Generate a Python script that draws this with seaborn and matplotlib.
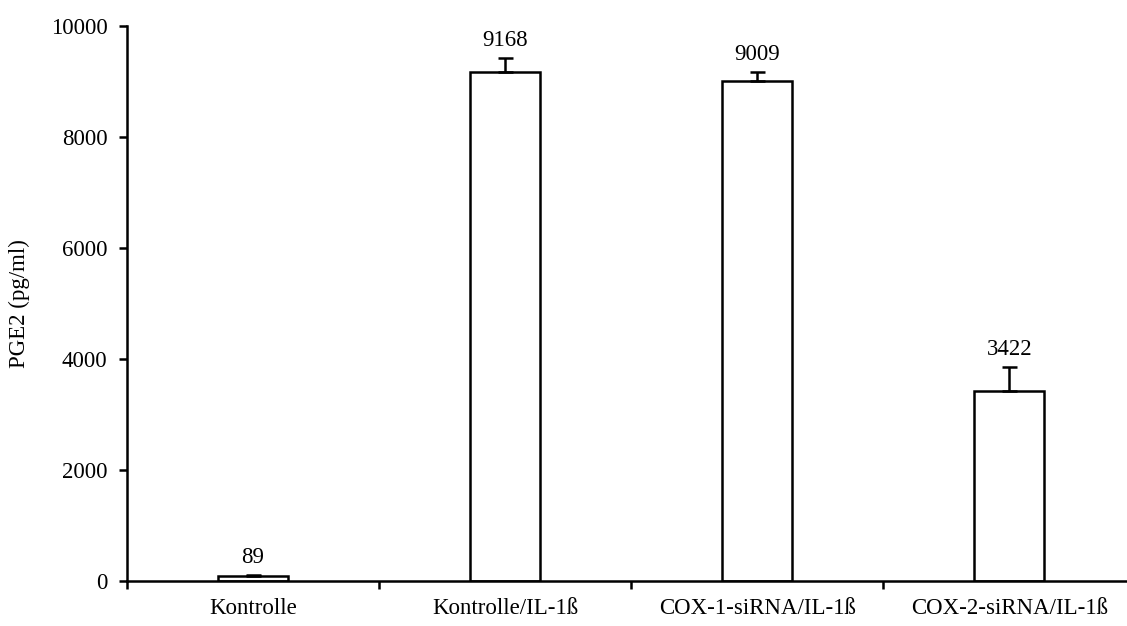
"""PGE2 release after IL-1beta stimulation, siRNA knock-down of COX-1 / COX-2."""

import matplotlib.pyplot as plt
import numpy as np
import pandas as pd
import seaborn as sns

categories = ["Kontrolle", "Kontrolle/IL-1ß", "COX-1-siRNA/IL-1ß", "COX-2-siRNA/IL-1ß"]
pge2_means = [89, 9168, 9009, 3422]
pge2_errors = [20, 255, 160, 430]

sns.set_theme(style="ticks")
plt.rcParams.update({
    "font.family": ["Liberation Serif", "DejaVu Serif"],
    "font.size": 16.5,
    "xtick.labelsize": 16.5,
    "ytick.labelsize": 16.5,
    "axes.labelsize": 16.5,
    "text.color": "black",
    "axes.labelcolor": "black",
    "xtick.color": "black",
    "ytick.color": "black",
})

df = pd.DataFrame({"group": categories, "pge2": pge2_means})

fig = plt.figure(figsize=(11.27, 6.26), dpi=100)
ax = fig.add_axes([0.1127, 0.0719, 0.8946, 0.8866])

sns.barplot(data=df, x="group", y="pge2", order=categories, color="white",
            edgecolor="black", linewidth=1.8, width=0.28, errorbar=None, ax=ax)

xpos = np.arange(len(categories))
ax.errorbar(xpos, pge2_means, yerr=[np.zeros(len(pge2_errors)), pge2_errors],
            fmt="none", ecolor="black", elinewidth=1.8, capsize=5.4, capthick=1.8)

for x, m, e in zip(xpos, pge2_means, pge2_errors):
    ax.annotate(f"{m}", (x, m + e), xytext=(0, 5), textcoords="offset points",
                ha="center", va="bottom", fontsize=16.5)

ax.set_xlim(-0.5, len(categories) - 0.5)
ax.set_ylim(0, 10000)
ax.set_yticks(np.arange(0, 10001, 2000))

# category labels at the bar centres, separator ticks between groups
ax.set_xticks(xpos)
ax.set_xticklabels(categories)
ax.set_xticks(np.arange(-0.5, len(categories) - 0.5, 1.0), minor=True)
ax.tick_params(axis="x", which="major", length=0, pad=12)
ax.tick_params(axis="x", which="minor", length=6, width=1.8, direction="out")
ax.tick_params(axis="y", length=6, width=1.8, direction="out", pad=8)

ax.set_xlabel("")
ax.set_ylabel("PGE2 (pg/ml)")
ax.yaxis.set_label_coords(-0.096, 0.5)

sns.despine(ax=ax)
for side in ["left", "bottom"]:
    ax.spines[side].set_linewidth(1.8)
    ax.spines[side].set_color("black")

fig.savefig("out.png", dpi=100)
